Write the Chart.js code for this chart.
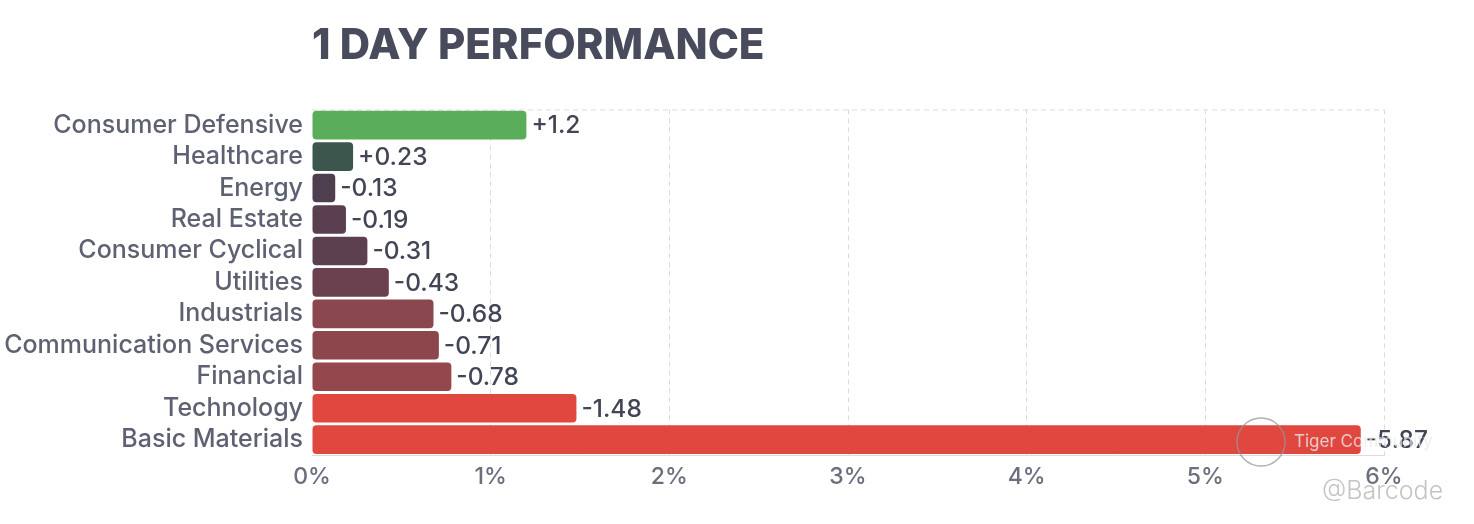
<!DOCTYPE html>
<html>
<head>
<meta charset="utf-8">
<script src="https://cdn.jsdelivr.net/npm/chart.js@4.4.1/dist/chart.umd.min.js"></script>
<style>
  html, body { margin: 0; padding: 0; background: #fff; }
  #wrap { width: 1474px; height: 524px; }
</style>
</head>
<body>
<div id="wrap"><canvas id="perfChart"></canvas></div>
<script>
// sectors and their 1 day change (%)
const sectors = [
  "Consumer Defensive", "Healthcare", "Energy", "Real Estate",
  "Consumer Cyclical", "Utilities", "Industrials",
  "Communication Services", "Financial", "Technology", "Basic Materials"
];
const changes = [1.2, 0.23, -0.13, -0.19, -0.31, -0.43, -0.68, -0.71, -0.78, -1.48, -5.87];
const barColors = [
  "#5aae5b", "#3d564d", "#4f3d50", "#593f50", "#5d404f", "#6b414f",
  "#8a474d", "#8c464c", "#94474c", "#e0473f", "#e0473f"
];
const xTicks = [0, 1, 2, 3, 4, 5, 6];

const fontName = "Inter, 'Noto Sans', sans-serif";

// value text to the right of each bar
const valueLabels = {
  id: "valueLabels",
  afterDatasetsDraw(chart) {
    const ctx = chart.ctx;
    const meta = chart.getDatasetMeta(0);
    ctx.save();
    ctx.font = "500 24.5px " + fontName;
    ctx.fillStyle = "#414555";
    ctx.textAlign = "left";
    ctx.textBaseline = "middle";
    meta.data.forEach((bar, i) => {
      const v = changes[i];
      const txt = (v > 0 ? "+" : "") + v;
      ctx.fillText(txt, bar.x + 5, bar.y + 1);
    });
    ctx.restore();
  }
};

// dashed line along the top of the plot
const topLine = {
  id: "topLine",
  beforeDatasetsDraw(chart) {
    const { ctx, chartArea } = chart;
    ctx.save();
    ctx.strokeStyle = "#dcdcdc";
    ctx.lineWidth = 1;
    ctx.setLineDash([5, 4]);
    ctx.beginPath();
    ctx.moveTo(chartArea.left, chartArea.top + 0.5);
    ctx.lineTo(chartArea.right, chartArea.top + 0.5);
    ctx.stroke();
    ctx.restore();
  }
};

// watermark
const watermark = {
  id: "watermark",
  afterDraw(chart) {
    const ctx = chart.ctx;
    ctx.save();
    ctx.strokeStyle = "rgba(150,150,150,0.75)";
    ctx.lineWidth = 1.5;
    ctx.beginPath();
    ctx.arc(1261, 442, 24, 0, Math.PI * 2);
    ctx.stroke();
    ctx.font = "400 17px " + fontName;
    ctx.fillStyle = "rgba(235,235,235,0.8)";
    ctx.textBaseline = "middle";
    ctx.fillText("Tiger Community", 1294, 442);
    ctx.font = "300 25px " + fontName;
    ctx.fillStyle = "rgba(190,190,190,0.9)";
    ctx.fillText("@Barcode", 1322, 491);
    ctx.restore();
  }
};

new Chart("perfChart", {
  type: "bar",
  data: {
    labels: sectors,
    datasets: [
      {
        data: changes.map((v) => Math.abs(v)),
        backgroundColor: barColors,
        borderRadius: 4,
        borderSkipped: false,
        barPercentage: 0.91,
        categoryPercentage: 1
      }
    ]
  },
  plugins: [topLine, valueLabels, watermark],
  options: {
    indexAxis: "y",
    responsive: true,
    maintainAspectRatio: false,
    animation: false,
    layout: { padding: { left: 0, right: 90, top: 0, bottom: 25 } },
    plugins: {
      legend: { display: false },
      tooltip: { enabled: false },
      title: {
        display: true,
        text: "1 DAY PERFORMANCE",
        align: "start",
        fullSize: false,
        color: "#474b5c",
        font: { family: fontName, size: 42, weight: "800" },
        padding: { top: 21, bottom: 38 }
      }
    },
    scales: {
      x: {
        min: 0,
        max: 6,
        afterBuildTicks: (scale) => {
          scale.ticks = xTicks.map((v) => ({ value: v }));
        },
        ticks: {
          callback: (v) => v + "%",
          color: "#6a6e7d",
          padding: 8,
          font: { family: fontName, size: 23, weight: "500" }
        },
        grid: {
          color: (c) => (c.index === 0 ? "transparent" : "#dcdcdc"),
          drawTicks: false
        },
        border: { display: true, dash: [5, 4], color: "#dcdcdc" }
      },
      y: {
        afterFit: (scale) => {
          scale.width = 312;
        },
        ticks: {
          autoSkip: false,
          color: "#5d6171",
          padding: 9,
          font: { family: fontName, size: 25, weight: "500" }
        },
        grid: { display: false, drawTicks: false },
        border: { display: false }
      }
    }
  }
});
</script>
</body>
</html>
